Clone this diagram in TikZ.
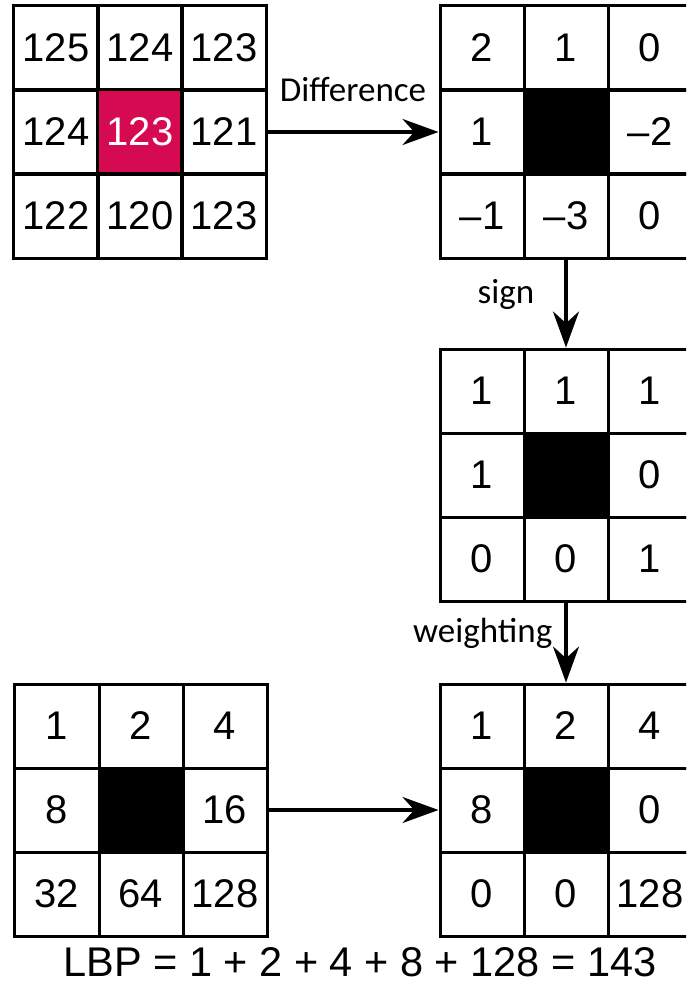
\documentclass[tikz,border=0pt]{standalone}
\usepackage{fontspec}
\setmainfont{Liberation Sans}
\newfontfamily\lblfont{Carlito}
\usetikzlibrary{matrix, arrows.meta}
\definecolor{centre}{RGB}{214,10,80}

\begin{document}
\begin{tikzpicture}[x=1pt, y=-1pt,
  cell/.style={draw, line width=3pt, anchor=center, minimum width=84pt, minimum height=84pt, inner sep=0pt, font=\fontsize{40}{42}\selectfont},
  grid/.style={matrix of nodes, nodes in empty cells, nodes={cell}, column sep=-3pt, row sep=-3pt, inner sep=0pt, outer sep=0pt},
  hole/.style={fill=black},
  lbl/.style={font=\lblfont\fontsize{35}{38}\selectfont, inner sep=2pt},
  ar/.style={-{Stealth[length=36pt, width=26pt]}, line width=3.4pt}]

\useasboundingbox (0,0) rectangle (686,984);
\clip (0,0) rectangle (686,984);

\matrix[grid] at (140,132) (in) {
  125 & 124 & 123 \\
  124 & |[fill=centre, text=white]| 123 & 121 \\
  122 & 120 & 123 \\
};
\matrix[grid] at (566,132) (diff) {
  2 & 1 & 0 \\
  1 & |[hole]| {} & –2 \\
  –1 & –3 & 0 \\
};
\matrix[grid] at (566,475) (sgn) {
  1 & 1 & 1 \\
  1 & |[hole]| {} & 0 \\
  0 & 0 & 1 \\
};
\matrix[grid] at (141,810) (wgt) {
  1 & 2 & 4 \\
  8 & |[hole]| {} & 16 \\
  32 & 64 & 128 \\
};
\matrix[grid] at (566,810) (res) {
  1 & 2 & 4 \\
  8 & |[hole]| {} & 0 \\
  0 & 0 & 128 \\
};

\node[anchor=base, font=\fontsize{41.5}{45}\selectfont] at (360,976) (lbp) {LBP = 1 + 2 + 4 + 8 + 128 = 143};

\draw[ar] (in.east) -- node[lbl, anchor=base, yshift=30pt]{Difference} (diff.west);
\draw[ar] (diff.south) -- node[lbl, anchor=base east, xshift=-28pt]{sign} (sgn.north);
\draw[ar] (sgn.south) -- node[lbl, anchor=base east, xshift=-10pt]{weighting} (res.north);
\draw[ar] (wgt.east) -- (res.west);
\end{tikzpicture}
\end{document}
